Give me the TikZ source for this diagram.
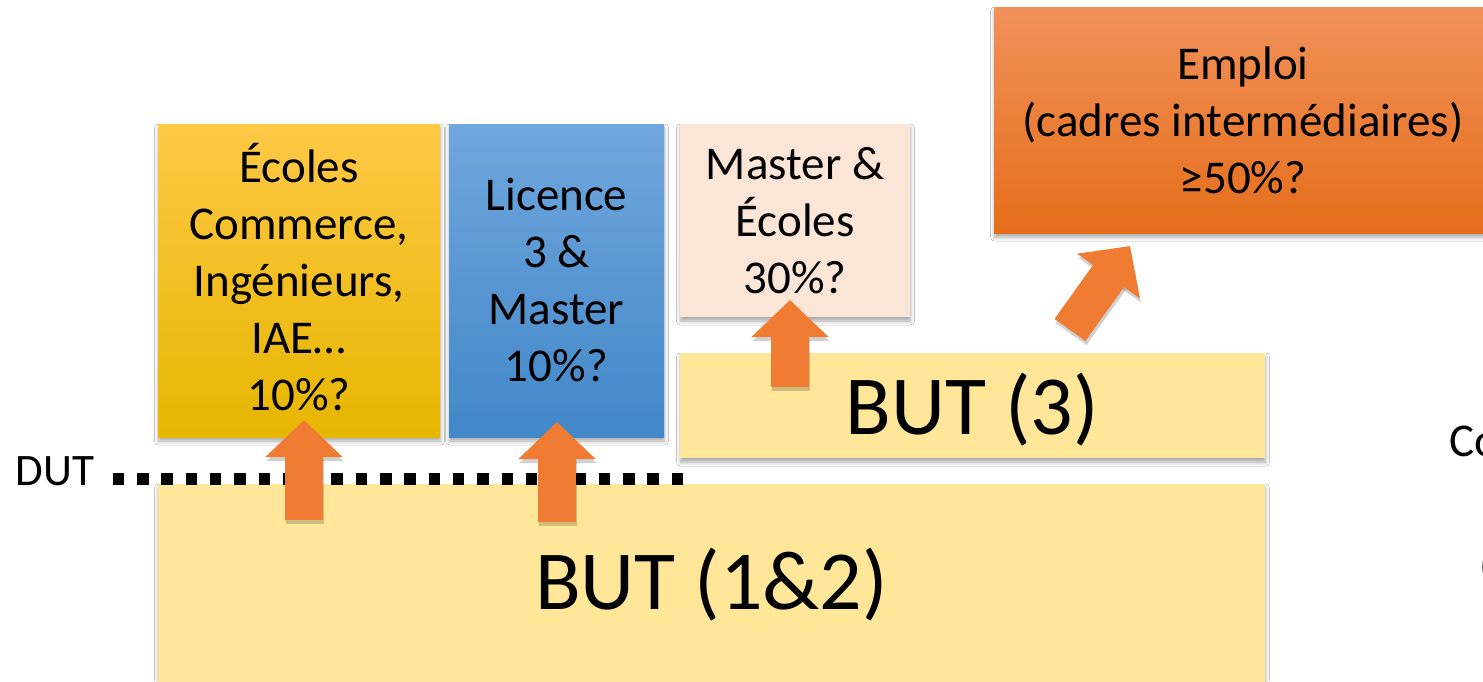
\documentclass[tikz,border=0pt]{standalone}
\usepackage{fontspec}
\setmainfont{Carlito}
\usetikzlibrary{arrows.meta,shadows.blur}
\definecolor{butc}{RGB}{255,230,153}
\definecolor{ecotop}{RGB}{255,200,70}
\definecolor{ecomid}{RGB}{255,192,0}
\definecolor{ecobot}{RGB}{230,182,0}
\definecolor{lictop}{RGB}{112,167,221}
\definecolor{licmid}{RGB}{91,155,213}
\definecolor{licbot}{RGB}{66,135,200}
\definecolor{masc}{RGB}{251,229,214}
\definecolor{emptop}{RGB}{241,145,90}
\definecolor{empmid}{RGB}{240,126,48}
\definecolor{empbot}{RGB}{229,110,26}
\definecolor{arrc}{RGB}{239,124,50}
\begin{document}
\begin{tikzpicture}[x=1pt,y=-1pt,
  box/.style={draw=none, inner sep=0pt, align=center,
    font=\fontsize{47}{57}\selectfont,
    blur shadow={shadow xshift=0.5pt, shadow yshift=-4pt, shadow blur radius=4pt, shadow opacity=35}},
  bigtext/.style={font=\fontsize{84}{100}\selectfont},
  arrsh/.style={line width=38pt, draw=black, opacity=0.18,
    -{Triangle[width=75pt,length=37pt]},
    transform canvas={shift={(1pt,-4pt)}}},
  arr/.style={line width=38pt, draw=arrc, -{Triangle[width=75pt,length=37pt]}},
  dutline/.style={line width=11.5pt, draw=black, dash pattern=on 11.5pt off 12.8pt},
  lbl/.style={inner sep=0pt, font=\fontsize{45}{54}\selectfont}
]
\useasboundingbox (0,0) rectangle (1483,681);
\clip (0,0) rectangle (1483,681);
\fill[white] (0,0) rectangle (1483,681);

% boxes
\node[box, fill=butc, minimum width=1107pt, minimum height=202pt, bigtext] (but12) at (711.5,585) {BUT (1\&2)};
\node[box, fill=butc, minimum width=585pt, minimum height=105pt, bigtext] (but3) at (972.5,405.5)
  {\raisebox{0pt}[\dimexpr\height+8pt][\depth]{BUT (3)}};
\node[box, top color=ecotop, middle color=ecomid, bottom color=ecobot, minimum width=282pt, minimum height=313pt] (ecoles) at (299,280.5)
  {\raisebox{0pt}[\dimexpr\height+9pt][\depth]{\begin{tabular}{@{}c@{}}Écoles\\Commerce,\\Ingénieurs,\\IAE…\\10\%?\end{tabular}}};
\node[box, top color=lictop, middle color=licmid, bottom color=licbot, minimum width=215pt, minimum height=313pt] (licence) at (556.5,280.5)
  {Licence\\3 \&\\Master\\10\%?};
\node[box, fill=masc, minimum width=230pt, minimum height=193pt] (master) at (795,220.5)
  {Master \&\\Écoles\\30\%?};
\node[box, top color=emptop, middle color=empmid, bottom color=empbot, minimum width=498pt, minimum height=226pt] (emploi) at (1243,120)
  {Emploi\\(cadres intermédiaires)\\≥50\%?};

% DUT label and dotted line
\node[lbl] (dut) at (55,471) {DUT};
\coordinate (dut1) at (112.7,479);
\coordinate (dut2) at (683,479);
\draw[dutline] (dut1) -- (dut2);

% partial texts at right edge (cut off in the reference too)
\node[inner sep=0pt, anchor=west, font=\fontsize{47}{57}\selectfont] (co) at (1449,441) {Co};
\node[inner sep=0pt, anchor=west, font=\fontsize{47}{57}\selectfont] (par) at (1479,568) {(};

% arrows
\coordinate (a1s) at (304,520); \coordinate (a1e) at (304,420);
\coordinate (a2s) at (557,522); \coordinate (a2e) at (557,422);
\coordinate (a3s) at (790,387); \coordinate (a3e) at (790,300);
\coordinate (a4s) at (1070,330); \coordinate (a4e) at (1130,246);
\foreach \s/\e in {a1s/a1e,a2s/a2e,a3s/a3e,a4s/a4e}{
  \draw[arrsh] (\s) -- (\e);
  \draw[arr] (\s) -- (\e);
}
\end{tikzpicture}
\end{document}
